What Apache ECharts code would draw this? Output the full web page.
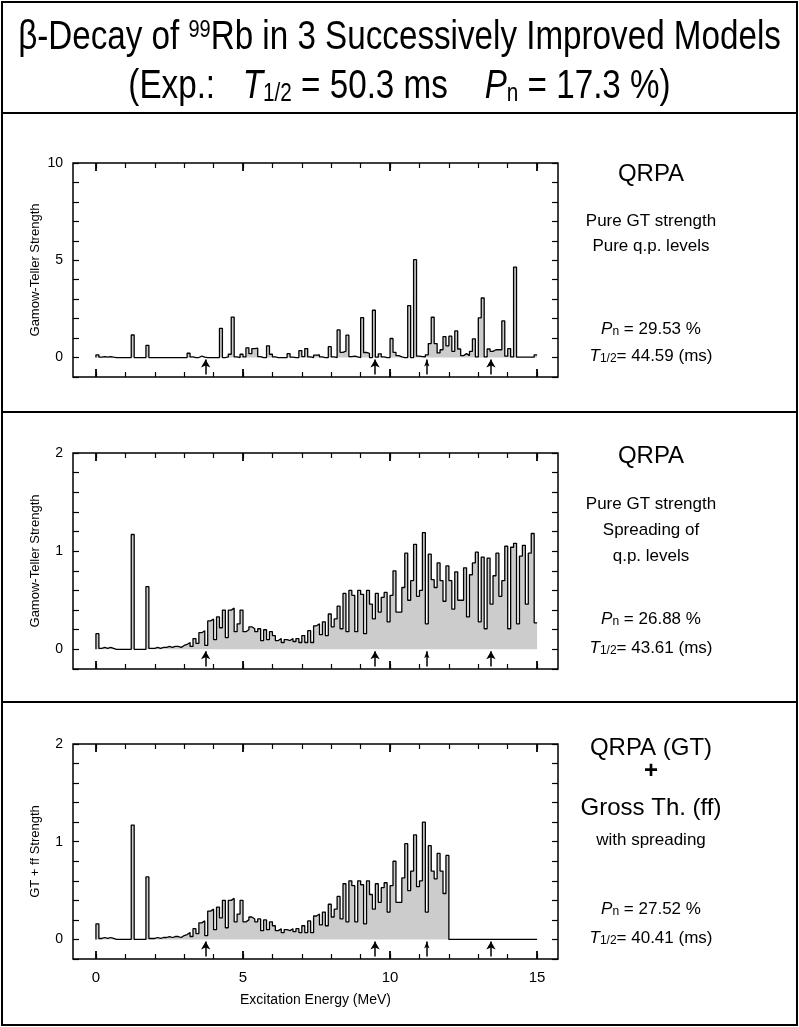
<!DOCTYPE html>
<html>
<head>
<meta charset="utf-8">
<script src="https://cdn.jsdelivr.net/npm/echarts@6/dist/echarts.min.js"></script>
<style>
  html, body { margin: 0; padding: 0; background: #fff; }
  #chart { width: 799px; height: 1027px; }
</style>
</head>
<body>
<div id="chart"></div>
<script>
// bins are 0.1 MeV wide, starting at 0 MeV
const binWidth = 0.1;

// panel 1: QRPA, pure GT strength, pure q.p. levels
const qrpaPure = [
  0.14, 0.02, 0.05, 0.02, 0.05, 0.02, 0, 0, 0, 0,
  0, 0, 1.16, 0, 0, 0, 0, 0.63, 0, 0,
  0, 0, 0, 0, 0, 0, 0, 0, 0, 0,
  0, 0.22, 0.03, 0, 0, 0.08, 0.02, 0, 0, 0,
  0, 0, 1.5, 0, 0.03, 0.17, 2.08, 0.03, 0, 0.17,
  0.03, 0.5, 0.2, 0.46, 0.48, 0.05, 0, 0, 0.6, 0.17,
  0.03, 0, 0, 0, 0, 0.2, 0.02, 0, 0, 0.36,
  0.05, 0.46, 0.03, 0, 0.12, 0.14, 0.03, 0, 0, 0.56,
  0.03, 0, 1.42, 0.27, 0.33, 1.15, 0.05, 0.07, 0.03, 0,
  2.05, 0.26, 0.22, 0, 2.43, 0.02, 0.19, 0.03, 0, 0,
  0.98, 0.27, 0.1, 0.03, 0, 0, 2.67, 0, 5.03, 0.07,
  0.05, 0.03, 0.14, 0.72, 2.07, 0.72, 0.24, 0.4, 1.08, 0.6,
  1.1, 0.32, 1.37, 0.44, 0.1, 0.2, 0.1, 0.32, 0.96, 0.03,
  2.04, 3.06, 0.03, 0.44, 0.32, 0.4, 0.4, 0.4, 1.88, 0.07,
  0.46, 0.03, 4.65, 0.02, 0.02, 0.02, 0.02, 0.02, 0.02, 0.14
];

// panel 2: QRPA, pure GT strength, spreading of q.p. levels
const qrpaSpread = [
  0.16, 0.01, 0.02, 0.01, 0.02, 0.01, 0, 0, 0, 0,
  0, 0, 1.17, 0, 0, 0, 0, 0.64, 0.01, 0.01,
  0.02, 0.01, 0.02, 0.02, 0.03, 0.02, 0.03, 0.03, 0.02, 0.04,
  0.05, 0.07, 0.03, 0.11, 0.06, 0.17, 0.19, 0.04, 0.29, 0.31,
  0.1, 0.33, 0.22, 0.4, 0.12, 0.4, 0.42, 0.18, 0.26, 0.4,
  0.18, 0.2, 0.23, 0.21, 0.18, 0.21, 0.09, 0.2, 0.1, 0.18,
  0.14, 0.09, 0.11, 0.07, 0.1, 0.09, 0.11, 0.08, 0.11, 0.07,
  0.14, 0.07, 0.19, 0.07, 0.24, 0.26, 0.15, 0.28, 0.14, 0.36,
  0.23, 0.31, 0.44, 0.21, 0.57, 0.18, 0.6, 0.55, 0.18, 0.6,
  0.56, 0.16, 0.6, 0.46, 0.31, 0.57, 0.38, 0.53, 0.58, 0.28,
  0.55, 0.8, 0.38, 0.38, 0.63, 0.98, 0.5, 0.7, 1.07, 0.54,
  0.6, 1.19, 0.26, 0.97, 0.71, 0.63, 0.88, 0.7, 0.49, 0.85,
  0.7, 0.41, 0.79, 0.5, 0.5, 0.83, 0.33, 0.76, 0.88, 0.99,
  0.28, 0.94, 0.21, 0.93, 0.46, 0.75, 0.98, 0.54, 0.7, 1.05,
  0.21, 1.04, 1.08, 0.26, 0.95, 1.06, 0.46, 0.98, 1.18, 0.27
];

// panel 3: QRPA (GT) + gross theory (ff), with spreading
const gtffSpread = [
  0.16, 0.01, 0.02, 0.01, 0.02, 0.01, 0, 0, 0, 0,
  0, 0, 1.17, 0, 0, 0, 0, 0.64, 0.01, 0.01,
  0.02, 0.01, 0.02, 0.02, 0.03, 0.02, 0.03, 0.03, 0.02, 0.04,
  0.05, 0.07, 0.03, 0.11, 0.06, 0.17, 0.19, 0.04, 0.29, 0.31,
  0.1, 0.33, 0.22, 0.4, 0.12, 0.4, 0.42, 0.18, 0.26, 0.4,
  0.18, 0.2, 0.23, 0.21, 0.18, 0.21, 0.09, 0.2, 0.1, 0.18,
  0.14, 0.09, 0.11, 0.07, 0.1, 0.09, 0.11, 0.08, 0.11, 0.07,
  0.14, 0.07, 0.19, 0.07, 0.24, 0.26, 0.15, 0.28, 0.14, 0.36,
  0.23, 0.31, 0.44, 0.21, 0.57, 0.18, 0.6, 0.55, 0.18, 0.6,
  0.56, 0.16, 0.6, 0.46, 0.31, 0.57, 0.38, 0.53, 0.58, 0.28,
  0.55, 0.8, 0.38, 0.38, 0.63, 0.98, 0.5, 0.7, 1.07, 0.54,
  0.6, 1.2, 0.28, 0.96, 0.7, 0.62, 0.88, 0.7, 0.47, 0.86,
  0, 0, 0, 0, 0, 0, 0, 0, 0, 0,
  0, 0, 0, 0, 0, 0, 0, 0, 0, 0,
  0, 0, 0, 0, 0, 0, 0, 0, 0, 0
];

// arrows under the axis (MeV)
const arrowEnergies = [3.73, 9.49, 11.25, 13.43];

const xMinorTicks = [0, 1, 2, 3, 4, 5, 6, 7, 8, 9, 10, 11, 12, 13, 14, 15];
const xMajorTicks = [0, 5, 10, 15];

const panelValues = [qrpaPure, qrpaSpread, gtffSpread];
const yNames = ['Gamow-Teller Strength', 'Gamow-Teller Strength', 'GT + ff Strength'];
const yLabelValues = [[0, 5, 10], [0, 1, 2], [0, 1, 2]];

const FONT = 'Liberation Sans';
const X_MIN = -0.78, X_MAX = 15.71;

// layout of the three boxes
const layout = [
  { top: 163, height: 214, yMin: -1, yMax: 10, yStep: 1, arrowLo: -0.87, arrowHi: -0.1 },
  { top: 453, height: 216, yMin: -0.2, yMax: 2, yStep: 0.2, arrowLo: -0.175, arrowHi: -0.02 },
  { top: 744, height: 215, yMin: -0.2, yMax: 2, yStep: 0.2, arrowLo: -0.175, arrowHi: -0.02 },
];

function stepData(values) {
  const pts = [[0, 0]];
  values.forEach((v, i) => pts.push([+(i * binWidth).toFixed(2), v]));
  pts.push([+(values.length * binWidth).toFixed(2), values[values.length - 1]]);
  return pts;
}

const grids = [], xAxes = [], yAxes = [], series = [];

layout.forEach((L, g) => {
  grids.push({
    left: 73, top: L.top, width: 485, height: L.height,
    show: true, borderColor: '#000', borderWidth: 1.5, backgroundColor: 'transparent',
  });

  const isLast = g === layout.length - 1;
  const xBase = {
    gridIndex: g, type: 'value', min: X_MIN, max: X_MAX,
    axisLine: { show: false, onZero: false }, splitLine: { show: false },
  };
  // bottom minor, bottom major, top minor, top major
  [['bottom', xMinorTicks, 5, 1.2], ['bottom', xMajorTicks, 8, 1.8], ['top', xMinorTicks, 5, 1.2], ['top', xMajorTicks, 8, 1.8]]
    .forEach(([pos, ticks, len, w], k) => {
      const showLabel = isLast && k === 0;
      xAxes.push(Object.assign({}, xBase, {
        position: pos,
        axisTick: { show: true, inside: true, length: len, customValues: ticks, lineStyle: { color: '#000', width: w } },
        axisLabel: {
          show: showLabel, customValues: xMajorTicks, margin: 11,
          color: '#000', fontFamily: FONT, fontSize: 15,
        },
        name: showLabel ? 'Excitation Energy (MeV)' : '',
        nameLocation: 'middle', nameGap: 34,
        nameTextStyle: { color: '#000', fontFamily: FONT, fontSize: 14 },
      }));
    });

  const labels = yLabelValues[g];
  ['left', 'right'].forEach((pos) => {
    yAxes.push({
      gridIndex: g, type: 'value', position: pos,
      min: L.yMin, max: L.yMax, interval: L.yStep,
      axisLine: { show: false, onZero: false }, splitLine: { show: false },
      axisTick: { show: true, inside: true, length: 6, lineStyle: { color: '#000', width: 1.2 } },
      axisLabel: {
        show: pos === 'left', margin: 10, color: '#000', fontFamily: FONT, fontSize: 14,
        formatter: (v) => labels.some(l => Math.abs(l - v) < 1e-6) ? String(Math.round(v)) : '',
      },
      name: pos === 'left' ? yNames[g] : '',
      nameLocation: 'middle', nameGap: 31, nameMoveOverlap: false,
      nameTextStyle: { color: '#000', fontFamily: FONT, fontSize: 13 },
    });
  });

  series.push({
    type: 'line', step: 'end',
    xAxisIndex: g * 4, yAxisIndex: g * 2,
    data: stepData(panelValues[g]),
    symbol: 'none', silent: true,
    lineStyle: { color: '#000', width: 1.3 },
    areaStyle: { color: '#cccccc', opacity: 1 },
    markLine: {
      silent: true, animation: false,
      symbol: ['none', 'arrow'], symbolSize: [6, 8],
      label: { show: false },
      lineStyle: { color: '#000', width: 1.5, type: 'solid' },
      emphasis: { disabled: true },
      data: arrowEnergies.map((e, k) => [
        { coord: [e, L.arrowLo] },
        { coord: [e, L.arrowHi], symbolSize: k === 2 ? [4, 7] : [7, 8] },
      ]),
    },
  });
});

// text helpers for the right column and heading
function txt(x, y, text, size, opts, extra) {
  return Object.assign({
    type: 'text', x: x, y: y, silent: true,
    style: Object.assign({
      text: text, fontFamily: FONT, fontSize: size, fill: '#000',
      align: 'center', verticalAlign: 'middle',
    }, opts || {}),
  }, extra || {});
}
function pnLine(x, y, text, size) {
  return txt(x, y, text, size, {
    rich: {
      i: { fontStyle: 'italic', fontFamily: FONT, fontSize: size },
      s: { fontFamily: FONT, fontSize: Math.round(size * 0.68), verticalAlign: 'bottom' },
    },
  });
}

const COLX = 651;
const TITLE_SIZE = 40;
const narrow = { scaleX: 0.83 };
const graphics = [
  { type: 'rect', shape: { x: 2, y: 2, width: 795, height: 1023 }, style: { fill: 'none', stroke: '#000', lineWidth: 2 }, silent: true },
  { type: 'line', shape: { x1: 2, y1: 113, x2: 797, y2: 113 }, style: { stroke: '#000', lineWidth: 2 }, silent: true },
  { type: 'line', shape: { x1: 2, y1: 412, x2: 797, y2: 412 }, style: { stroke: '#000', lineWidth: 2 }, silent: true },
  { type: 'line', shape: { x1: 2, y1: 702, x2: 797, y2: 702 }, style: { stroke: '#000', lineWidth: 2 }, silent: true },

  txt(399.5, 38, 'β-Decay of {sup|99}Rb in 3 Successively Improved Models', TITLE_SIZE, {
    rich: { sup: { fontFamily: FONT, fontSize: 24, verticalAlign: 'top' } },
  }, narrow),
  txt(399.5, 87, '(Exp.:   {i|T}{s|1/2} = 50.3 ms    {i|P}{s|n} = 17.3 %)', TITLE_SIZE, {
    rich: {
      i: { fontFamily: FONT, fontStyle: 'italic', fontSize: TITLE_SIZE },
      s: { fontFamily: FONT, fontSize: 25, verticalAlign: 'bottom' },
    },
  }, narrow),

  txt(COLX, 174, 'QRPA', 24),
  txt(COLX, 221, 'Pure GT strength', 17),
  txt(COLX, 246, 'Pure q.p. levels', 17),
  pnLine(COLX, 329, '{i|P}{s|n} = 29.53 %', 17),
  pnLine(COLX, 356, '{i|T}{s|1/2}= 44.59 (ms)', 17),

  txt(COLX, 456, 'QRPA', 24),
  txt(COLX, 504, 'Pure GT strength', 17),
  txt(COLX, 530, 'Spreading of', 17),
  txt(COLX, 556, 'q.p. levels', 17),
  pnLine(COLX, 619, '{i|P}{s|n} = 26.88 %', 17),
  pnLine(COLX, 648, '{i|T}{s|1/2}= 43.61 (ms)', 17),

  txt(COLX, 748, 'QRPA (GT)', 24),
  txt(COLX, 771, '+', 24, { fontWeight: 'bold' }),
  txt(COLX, 808, 'Gross Th. (ff)', 24),
  txt(COLX, 840, 'with spreading', 17),
  pnLine(COLX, 909, '{i|P}{s|n} = 27.52 %', 17),
  pnLine(COLX, 938, '{i|T}{s|1/2}= 40.41 (ms)', 17),
];

const chart = echarts.init(document.getElementById('chart'), null, { renderer: 'canvas' });
chart.setOption({
  animation: false,
  backgroundColor: '#fff',
  textStyle: { fontFamily: FONT },
  grid: grids,
  xAxis: xAxes,
  yAxis: yAxes,
  series: series,
  graphic: graphics,
});
</script>
</body>
</html>
